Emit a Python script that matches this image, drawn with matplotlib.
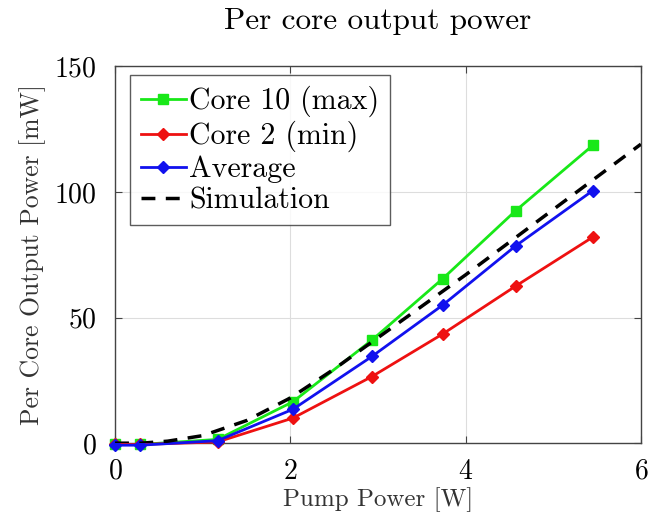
import numpy as np
import matplotlib.pyplot as plt

# datos
pump = [0.0, 0.29, 1.17, 2.03, 2.93, 3.74, 4.57, 5.45]
core10 = [-0.5, -0.5, 1.5, 16.5, 41.0, 65.5, 92.5, 118.5]
core2 = [-0.5, -0.5, 0.5, 10.0, 26.5, 43.5, 62.5, 82.0]
average = [-0.8, -0.8, 1.0, 13.5, 34.5, 55.0, 78.5, 100.5]

sim_x = [0.0, 0.3, 0.6, 1.0, 1.5, 2.0, 2.5, 3.0, 3.5, 4.0, 4.5, 5.0, 5.5, 6.0]
sim_y = [0.0, 0.0, 0.8, 3.0, 9.0, 18.0, 29.5, 42.0, 54.5, 67.0, 80.0, 93.0, 106.0, 119.0]

plt.rcParams['font.family'] = 'cmr10'
plt.rcParams['mathtext.fontset'] = 'cm'
plt.rcParams['axes.formatter.use_mathtext'] = True

fig = plt.figure(figsize=(6.69, 5.22), dpi=100)
ax = fig.add_axes([0.172, 0.151, 0.786, 0.722])

ax.plot(pump, core10, '-s', color='#18e818', lw=2, ms=6.5, label='Core 10 (max)', clip_on=False, zorder=3)
ax.plot(pump, core2, '-D', color='#ee1111', lw=2, ms=6.5, label='Core 2 (min)', clip_on=False, zorder=3)
ax.plot(pump, average, '-D', color='#1111ee', lw=2, ms=6.5, label='Average', clip_on=False, zorder=4)
ax.plot(sim_x, sim_y, '--', color='black', lw=2.5, dashes=(4, 3), label='Simulation', zorder=5)

ax.set_xlim(0, 6)
ax.set_ylim(0, 150)
ax.set_xticks([0, 2, 4, 6])
ax.set_yticks([0, 50, 100, 150])
ax.grid(True, color='#dddddd', lw=0.8)
ax.set_axisbelow(True)
ax.tick_params(direction='in', top=True, right=True, labelsize=20, length=5, color='#444444')
ax.tick_params(axis='x', pad=11)
ax.tick_params(axis='y', pad=13)
for s in ax.spines.values():
    s.set_color('#444444')
    s.set_linewidth(1.0)

ax.set_xlabel('Pump Power [W]', fontsize=18, labelpad=2, color='#333333')
ax.set_ylabel('Per Core Output Power [mW]', fontsize=18.5, labelpad=6, color='#333333')
ax.set_title('Per core output power', fontsize=22.5, pad=27)

leg = ax.legend(loc='upper left', fontsize=21.5, frameon=True, fancybox=False,
                edgecolor='#333333', handlelength=1.5, handletextpad=0.12,
                borderpad=0.35, labelspacing=0.12, borderaxespad=0,
                bbox_to_anchor=(0.029, 0.976))
leg.get_frame().set_linewidth(1.0)

fig.savefig('out.png', dpi=100)
